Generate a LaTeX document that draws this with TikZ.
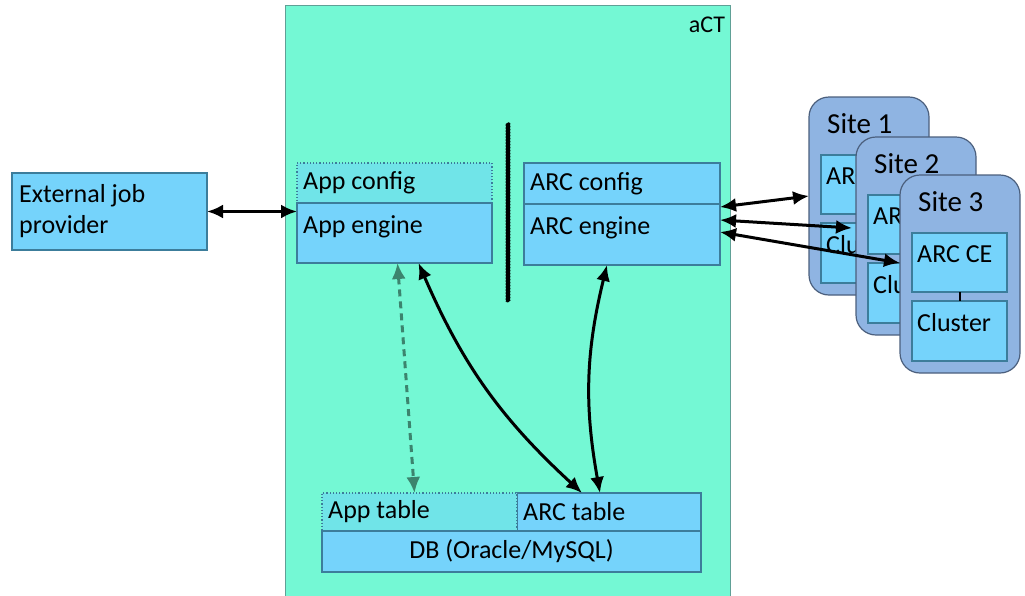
\documentclass[tikz,border=0pt]{standalone}
\usepackage{fontspec}
\setmainfont{Carlito}
\usepackage{tikz}
\usetikzlibrary{positioning,calc,arrows.meta,decorations.pathmorphing}
\definecolor{actgreen}{RGB}{116,248,212}
\definecolor{actline}{RGB}{96,160,150}
\definecolor{boxblue}{RGB}{117,211,251}
\definecolor{boxline}{RGB}{60,125,155}
\definecolor{cfgcyan}{RGB}{112,228,232}
\definecolor{sitegray}{RGB}{143,180,226}
\definecolor{siteline}{RGB}{75,95,125}
\definecolor{dbteal}{RGB}{60,132,110}

\begin{document}
\begin{tikzpicture}[x=1pt,y=-1pt,
	every node/.style={font=\fontsize{26}{31}\selectfont},
	box/.style={draw=boxline,fill=boxblue,line width=1.2pt,anchor=north west,inner sep=0pt,outer sep=0pt},
	cfgbox/.style={box,fill=cfgcyan,dotted},
	lbl/.style={anchor=north west,inner xsep=6pt,inner ysep=12pt},
	lblw/.style={anchor=west,inner xsep=6pt},
	sitebox/.style={draw=siteline,fill=sitegray,line width=1.2pt,rounded corners=20pt,anchor=north west,inner sep=0pt,outer sep=0pt},
	sitelbl/.style={anchor=north west,inner xsep=18pt,inner ysep=16pt,font=\fontsize{29}{34}\selectfont},
	twoway/.style={{Latex[length=16pt,width=14pt]}-{Latex[length=16pt,width=14pt]},line width=3pt}]
		
		\useasboundingbox (0,0) rectangle (1025,595);
		
		% aCT frame
		\node[draw=actline,fill=actgreen,line width=1.2pt,anchor=north west,inner sep=0pt,minimum width=445pt,minimum height=600pt,
			label={[anchor=north east,inner xsep=6pt,inner ysep=12pt,font=\fontsize{24}{28}\selectfont]north east:aCT}] (act) at (285,5) {};
		
		\node[box,minimum width=195pt,minimum height=77pt,label={[lbl,align=left,inner xsep=7pt,inner ysep=11pt]north west:External job\\provider}] (extprov) at (12,173) {};
		
		\node[cfgbox,minimum width=195pt,minimum height=40pt,label={[lblw]west:App config}] (appcfg) at (297,163) {};
		\node[box,minimum width=195pt,minimum height=60pt,below=0pt of appcfg,label={[lbl]north west:App engine}] (appeng) {};
		
		\node[box,minimum width=196pt,minimum height=41pt,label={[lblw]west:ARC config}] (arccfg) at (524,163) {};
		\node[box,minimum width=196pt,minimum height=61pt,below=0pt of arccfg,label={[lbl]north west:ARC engine}] (arceng) {};
		
		\draw[line width=2.2pt,decorate,decoration={snake,amplitude=.6pt,segment length=1.5pt}] (508,123) -- (508,302);
		
		% database
		\node[box,minimum width=184pt,minimum height=38pt,label={[lblw]west:ARC table}] (arctab) at (517,493) {};
		\node[cfgbox,minimum width=195pt,minimum height=38pt,label={[lblw]west:App table}] (apptab) at (322,493) {};
		\node[box,minimum width=379pt,minimum height=41pt] (db) at (apptab.south west) {DB (Oracle/MySQL)};
		
		% sites
		\node[sitebox,minimum width=120pt,minimum height=198pt,label={[sitelbl]north west:Site 1}] (site1) at (809,97) {};
		\node[box,minimum width=95pt,minimum height=59pt,label={[lbl,inner xsep=5pt]north west:ARC CE}] (ce1) at (821,155) {};
		\node[box,minimum width=95pt,minimum height=60pt,label={[lbl,inner xsep=5pt]north west:Cluster}] (cl1) at (821,223) {};
		\draw[line width=2pt] (ce1) -- (cl1);
		
		\node[sitebox,minimum width=120pt,minimum height=198pt,label={[sitelbl]north west:Site 2}] (site2) at (856,137) {};
		\node[box,minimum width=95pt,minimum height=59pt,label={[lbl,inner xsep=5pt]north west:ARC CE}] (ce2) at (868,195) {};
		\node[box,minimum width=95pt,minimum height=60pt,label={[lbl,inner xsep=5pt]north west:Cluster}] (cl2) at (868,263) {};
		\draw[line width=2pt] (ce2) -- (cl2);
		
		\node[sitebox,minimum width=120pt,minimum height=198pt,label={[sitelbl]north west:Site 3}] (site3) at (900,175) {};
		\node[box,minimum width=95pt,minimum height=59pt,label={[lbl,inner xsep=5pt]north west:ARC CE}] (ce3) at (912,233) {};
		\node[box,minimum width=95pt,minimum height=60pt,label={[lbl,inner xsep=5pt]north west:Cluster}] (cl3) at (912,301) {};
		\draw[line width=2pt] (ce3) -- (cl3);
		
		% connections
		\draw[twoway] (extprov.east) -- (extprov.east -| appeng.west);
		
		\draw[twoway] ($(arceng.north east)+(0,3)$) -- (site1.west);
		\draw[twoway] ($(arceng.north east)+(0,16)$) -- ($(site2.west)+(-4,-8)$);
		\draw[twoway] ($(arceng.north east)+(0,28)$) -- ($(site3.west)+(0,-11)$);
		
		\draw[twoway,dbteal,dash pattern=on 7pt off 5pt] ($(appeng.south)+(3,0)$) -- ($(apptab.north)+(-5,0)$);
		\draw[twoway] ($(appeng.south)+(24,0)$) to[bend right=12] ($(arctab.north)+(-27,0)$);
		\draw[twoway] ($(arceng.south)+(-15,0)$) to[bend right=12] ($(arctab.north)+(-9,0)$);
		
\end{tikzpicture}
\end{document}
